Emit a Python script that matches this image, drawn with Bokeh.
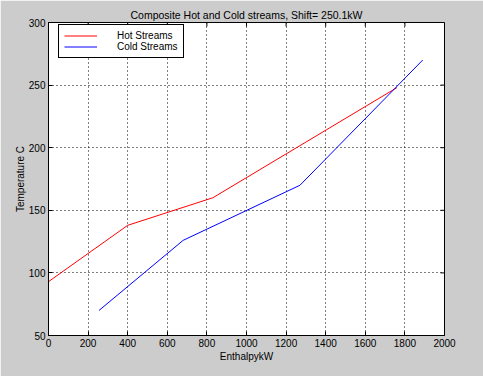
import math
from bokeh.plotting import figure
from bokeh.models import Range1d, FixedTicker, Legend, LegendItem
from bokeh.embed import file_html
from bokeh.resources import INLINE

hot_h = [0, 400, 830, 1760]
hot_t = [93, 138, 160, 248]
cold_h = [255, 680, 1270, 1890]
cold_t = [70, 126, 170, 270]
x_ticks = [0, 200, 400, 600, 800, 1000, 1200, 1400, 1600, 1800, 2000]
y_ticks = [50, 100, 150, 200, 250, 300]

FONT = "Liberation Sans"
GRAY = "#cccccc"

p = figure(width=483, height=376, frame_width=396, frame_height=313,
           x_range=Range1d(0, 2000), y_range=Range1d(50, 300),
           output_backend="svg", toolbar_location=None,
           min_border_left=48, min_border_right=39, min_border_top=22, min_border_bottom=41,
           title="Composite Hot and Cold streams, Shift= 250.1kW")
p.border_fill_color = GRAY
p.background_fill_color = "white"
p.outline_line_color = "black"
p.outline_line_alpha = 1.0
p.title.text_font = FONT
p.title.text_font_size = "10.5px"
p.title.text_font_style = "normal"
p.title.text_color = "black"
p.title.align = "center"
p.title.standoff = 4
p.title.offset = 0

for ax in (p.xaxis[0], p.yaxis[0]):
    ax.axis_line_color = "black"
    ax.major_tick_line_color = "black"
    ax.major_tick_in = 4
    ax.major_tick_out = 0
    ax.minor_tick_in = 0
    ax.minor_tick_out = 0
    ax.major_label_text_font = FONT
    ax.major_label_text_color = "black"
    ax.major_label_text_font_size = "10px"
    ax.major_label_standoff = 3
    ax.axis_label_text_font = FONT
    ax.axis_label_text_font_style = "normal"
    ax.axis_label_text_font_size = "10px"
    ax.axis_label_text_color = "black"

p.xaxis.ticker = FixedTicker(ticks=x_ticks)
p.yaxis.ticker = FixedTicker(ticks=y_ticks)
p.xaxis.axis_label = "EnthalpykW"
p.yaxis.axis_label = "Temperature C"
p.xaxis.axis_label_standoff = 1
p.yaxis.axis_label_standoff = 0

# inward ticks on the top and right edges of the box
y_top = [p.y_range.end] * len(x_ticks)
x_right = [p.x_range.end] * len(y_ticks)
p.ray(x=x_ticks, y=y_top, length=4, length_units="screen", angle=-math.pi / 2,
      line_color="black", line_width=1)
p.ray(x=x_right, y=y_ticks, length=4, length_units="screen", angle=math.pi,
      line_color="black", line_width=1)

p.xgrid.ticker = FixedTicker(ticks=x_ticks)
p.ygrid.ticker = FixedTicker(ticks=y_ticks)
for g in (p.xgrid[0], p.ygrid[0]):
    g.grid_line_color = "black"
    g.grid_line_dash = "1 3"
    g.grid_line_alpha = 1.0
    g.grid_line_width = 1

r_hot = p.line(hot_h, hot_t, line_color="#ff0000", line_width=1)
r_cold = p.line(cold_h, cold_t, line_color="#0000ff", line_width=1)

legend = Legend(items=[LegendItem(label="Hot Streams", renderers=[r_hot]),
                       LegendItem(label="Cold Streams", renderers=[r_cold])],
                location=(10, 277))
legend.border_line_color = "black"
legend.border_line_alpha = 1.0
legend.background_fill_color = "white"
legend.background_fill_alpha = 1.0
legend.label_text_font = FONT
legend.label_text_font_size = "10px"
legend.label_text_color = "black"
legend.glyph_height = 9
legend.glyph_width = 33
legend.label_height = 9
legend.label_standoff = 20
legend.spacing = 0
legend.padding = 5
legend.margin = 0
p.add_layout(legend)

html = file_html(p, INLINE)
html = html.replace("<body>", '<body style="background:#cccccc">', 1)
open("out.html", "w").write(html)
